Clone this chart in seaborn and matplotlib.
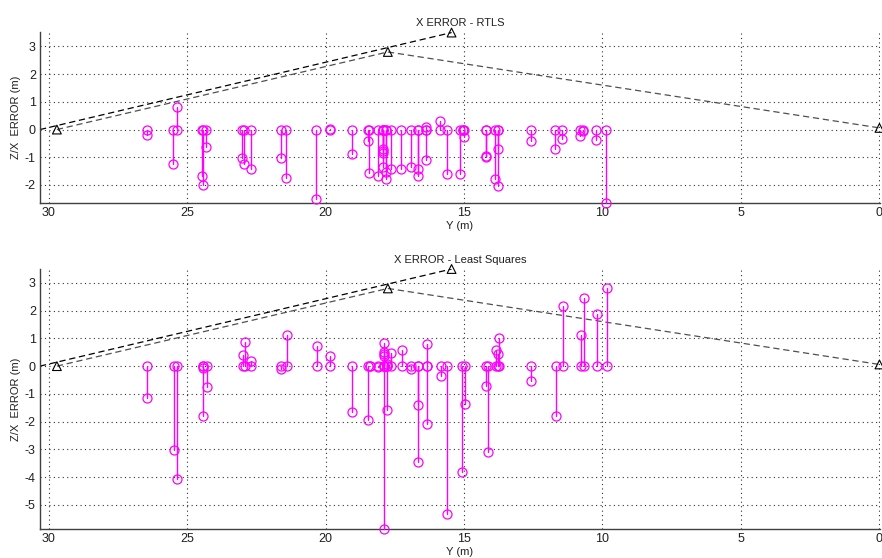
import numpy as np
import pandas as pd
import matplotlib
matplotlib.use("Agg")
import matplotlib.pyplot as plt
import seaborn as sns

# ---------------- data ----------------
rtls_pos = [26.45, 25.49, 25.38, 24.45, 24.44, 24.31, 23.01, 22.94, 22.70, 21.62,
            21.41, 20.33, 19.84, 19.06, 18.48, 18.43, 18.12, 17.92, 17.92, 17.92,
            17.92, 17.80, 17.80, 17.62, 17.26, 16.93, 16.66, 16.66, 16.36, 16.36,
            15.87, 15.63, 15.13, 15.05, 15.00, 14.22, 14.20, 13.89, 13.79, 13.77,
            12.59, 11.71, 11.46, 10.82, 10.70, 10.24, 9.86]
rtls_err = [-0.20, -1.23, 0.82, -1.69, -2.01, -0.63, -1.01, -1.25, -1.41, -1.01,
            -1.75, -2.52, 0.03, -0.89, -0.42, -1.57, -1.69, -0.70, -0.78, -0.85,
            -1.35, -1.53, -1.78, -1.41, -1.43, -1.35, -1.43, -1.67, 0.10, -1.11,
            0.31, -1.61, -1.59, 0.00, -0.27, -0.97, -1.00, -1.77, -2.04, -0.69,
            -0.42, -0.71, -0.35, -0.25, -0.04, -0.36, -2.65]

ls_pos = [26.46, 25.48, 25.37, 24.43, 24.43, 24.29, 22.99, 22.92, 22.68, 21.60,
          21.40, 20.31, 19.83, 19.03, 18.47, 18.41, 18.11, 17.90, 17.90, 17.90,
          17.90, 17.90, 17.78, 17.78, 17.62, 17.24, 16.91, 16.66, 16.66, 16.33,
          16.33, 15.84, 15.60, 15.09, 14.98, 14.19, 14.15, 13.85, 13.77, 13.73,
          12.57, 11.68, 11.41, 10.79, 10.67, 10.21, 9.82]
ls_err = [-1.14, -3.04, -4.07, -1.81, -0.07, -0.77, 0.41, 0.86, 0.17, -0.11,
          1.11, 0.71, 0.37, -1.64, -1.94, 0.00, -0.04, 0.82, 0.52, 0.45,
          0.38, -5.87, -1.58, 0.08, 0.49, 0.59, -0.10, -1.39, -3.47, 0.80,
          -2.08, -0.34, -5.34, -3.83, -1.37, -0.73, -3.10, 0.59, 0.43, 1.00,
          -0.55, -1.78, 2.16, 1.11, 2.46, 1.88, 2.80]

# reader geometry (dashed outline)
path_a_x = [30.31, 15.45]
path_a_z = [0.0, 3.50]
path_b_x = [29.70, 17.75, 0.0]
path_b_z = [0.0, 2.80, 0.06]
reader_x = [29.70, 17.75, 15.45, 0.0]
reader_z = [0.0, 2.80, 3.50, 0.06]

titles = ["X ERROR - RTLS", "X ERROR - Least Squares"]
ylims = [(-2.65, 3.52), (-5.87, 3.50)]
yticks = [[-2, -1, 0, 1, 2, 3], [-5, -4, -3, -2, -1, 0, 1, 2, 3]]
xticks = [30, 25, 20, 15, 10, 5, 0]

# ---------------- plot ----------------
sns.set_theme(style="white")
plt.rcParams['font.family'] = ['Liberation Sans', 'DejaVu Sans']

fig = plt.figure(figsize=(8.82, 5.58), dpi=100)
ax1 = fig.add_axes([40/882, 1-203/558, 840/882, 171/558])
ax2 = fig.add_axes([40/882, 1-529/558, 840/882, 260/558])

def stem_frame(pos, err):
    rows = []
    for i, (p, e) in enumerate(zip(pos, err)):
        rows.append({"id": i, "y": p, "z": 0.0, "end": 0})
        rows.append({"id": i, "y": p, "z": e, "end": 1})
    return pd.DataFrame(rows)

for ax, pos, err, title, yl, yt in zip([ax1, ax2], [rtls_pos, ls_pos], [rtls_err, ls_err],
                                        titles, ylims, yticks):
    # dashed reader geometry
    sns.lineplot(x=path_a_x, y=path_a_z, ax=ax, color="black", lw=0.9,
                 linestyle=(0, (5, 3)), sort=False, estimator=None, zorder=2)
    sns.lineplot(x=path_b_x, y=path_b_z, ax=ax, color="#505050", lw=0.9,
                 linestyle=(0, (5, 3)), sort=False, estimator=None, zorder=2)
    sns.scatterplot(x=reader_x, y=reader_z, ax=ax, marker="^", s=40,
                    facecolor="none", edgecolor="black", linewidth=0.8,
                    zorder=3, clip_on=False)
    # error stems
    df = stem_frame(pos, err)
    sns.lineplot(data=df, x="y", y="z", units="id", estimator=None, sort=False,
                 ax=ax, color="#ff00ff", lw=1.0, marker="o", markersize=6.5,
                 markerfacecolor="none", markeredgecolor="#ff00ff",
                 markeredgewidth=0.9, zorder=4, clip_on=False)

    ax.set_xlim(30.31, -0.02)
    ax.set_ylim(*yl)
    ax.set_xticks(xticks)
    ax.set_xticklabels([str(t) for t in xticks])
    ax.set_yticks(yt)
    ax.set_yticklabels([str(t) for t in yt])
    ax.grid(True, linestyle=(0, (1, 3)), color="#303030", lw=0.8)
    for s in ["top", "right"]:
        ax.spines[s].set_visible(False)
    for s in ["left", "bottom"]:
        ax.spines[s].set_color("#404040")
        ax.spines[s].set_linewidth(1.0)
    ax.tick_params(direction="in", length=3, labelsize=9, colors="#202020", pad=3)
    ax.set_title(title, fontsize=8, pad=4, color="#202020")
    ax.set_xlabel("Y (m)", fontsize=8, labelpad=1, color="#202020")
    ax.set_ylabel("Z/X  ERROR (m)", fontsize=8, labelpad=3, color="#202020")
    if ax.get_legend() is not None:
        ax.get_legend().remove()

fig.savefig("out.png", dpi=100)
